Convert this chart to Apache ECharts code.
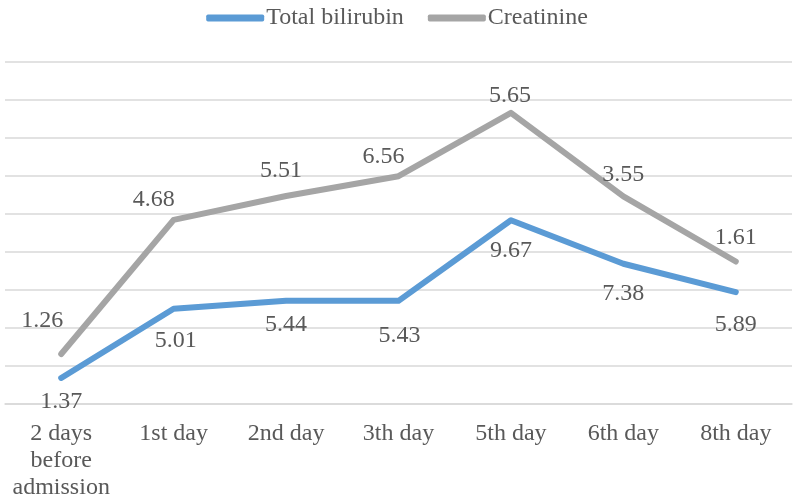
<!DOCTYPE html>
<html>
<head>
<meta charset="utf-8">
<script src="https://cdn.jsdelivr.net/npm/echarts@6/dist/echarts.min.js"></script>
<style>html,body{margin:0;padding:0;background:#fff}#c{width:794px;height:497px}</style>
</head>
<body>
<div id="c"></div>
<script>
var categories = ['2 days\nbefore\nadmission', '1st day', '2nd day', '3th day', '5th day', '6th day', '8th day'];
var bilirubin = [1.37, 5.01, 5.44, 5.43, 9.67, 7.38, 5.89];
var creatinine = [1.26, 4.68, 5.51, 6.56, 5.65, 3.55, 1.61];
var bilOffsets = [[0, 24], [2, 32], [0, 24], [1, 35], [0, 30], [0, 30], [0, 33]];
var creOffsets = [[-19, -33], [-20, -20], [-5, -25], [-15, -19], [-1, -17], [0, -22], [0, -24]];

function build(vals, offs) {
  return vals.map(function (v, i) {
    return { value: v, label: { offset: offs[i] } };
  });
}

var font = 'Liberation Serif, Times New Roman, serif';
var chart = echarts.init(document.getElementById('c'));
chart.setOption({
  animation: false,
  backgroundColor: '#fff',
  legend: {
    top: 1,
    left: 'center',
    itemWidth: 58,
    itemHeight: 7,
    itemGap: 24,
    icon: 'roundRect',
    textStyle: { fontFamily: font, fontSize: 24, color: '#595959', padding: [0, 0, 0, -3] },
    data: ['Total bilirubin', 'Creatinine']
  },
  grid: { left: 5, right: 2, top: 62, bottom: 93, outerBoundsMode: 'none', containLabel: false },
  xAxis: {
    type: 'category',
    data: categories,
    boundaryGap: true,
    axisLine: { lineStyle: { color: '#D9D9D9', width: 1.5 } },
    axisTick: { show: false },
    axisLabel: { fontFamily: font, fontSize: 24, color: '#595959', margin: 16, lineHeight: 27, interval: 0 }
  },
  yAxis: {
    type: 'value',
    min: 0, max: 18, interval: 2,
    axisLabel: { show: false },
    axisLine: { show: false },
    axisTick: { show: false },
    splitLine: { lineStyle: { color: '#D9D9D9', width: 1.5 } }
  },
  series: [
    {
      name: 'Total bilirubin',
      type: 'line',
      stack: 'total',
      data: build(bilirubin, bilOffsets),
      symbol: 'circle',
      symbolSize: 1,
      lineStyle: { color: '#5B9BD5', width: 6, cap: 'round', join: 'round' },
      itemStyle: { color: '#5B9BD5' },
      label: { show: true, position: 'inside', fontFamily: font, fontSize: 24, color: '#595959' }
    },
    {
      name: 'Creatinine',
      type: 'line',
      stack: 'total',
      data: build(creatinine, creOffsets),
      symbol: 'circle',
      symbolSize: 1,
      lineStyle: { color: '#A5A5A5', width: 6, cap: 'round', join: 'round' },
      itemStyle: { color: '#A5A5A5' },
      label: { show: true, position: 'inside', fontFamily: font, fontSize: 24, color: '#595959' }
    }
  ]
});
</script>
</body>
</html>
